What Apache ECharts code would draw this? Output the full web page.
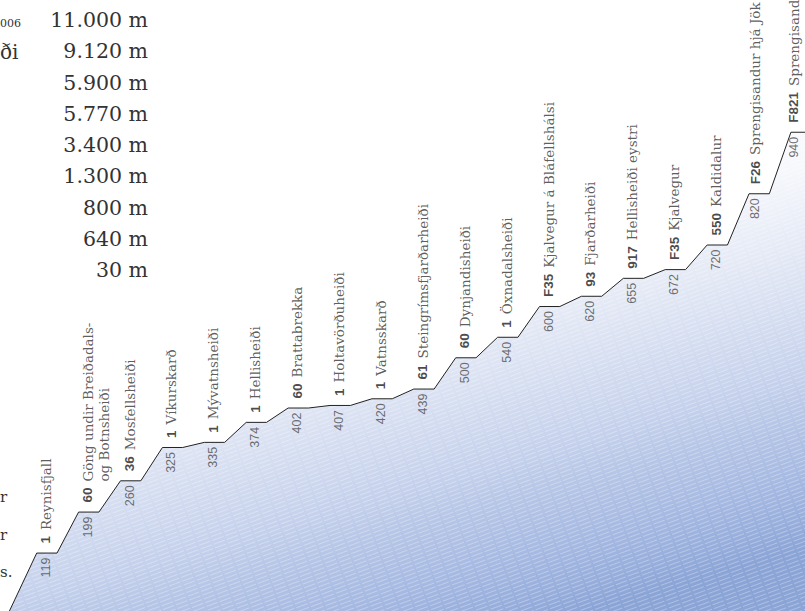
<!DOCTYPE html>
<html><head><meta charset="utf-8">
<script src="https://cdn.jsdelivr.net/npm/echarts@6/dist/echarts.min.js"></script>
<style>html,body{margin:0;padding:0;background:#fff}#c{width:805px;height:611px}</style>
</head><body><div id="c"></div>
<script>
// ---- data ----
const heights = [119,199,260,325,335,374,402,407,420,439,500,540,600,620,655,672,720,820,940];
const roads = ['1','60','36','1','1','1','60','1','1','61','60','1','F35','93','917','F35','550','F26','F821'];
const passNames = ['Reynisfjall','Göng undir Breiðadals-\nog Botnsheiði','Mosfellsheiði','Víkurskarð','Mývatnsheiði',
  'Hellisheiði','Brattabrekka','Holtavörðuheiði','Vatnsskarð','Steingrímsfjarðarheiði','Dynjandisheiði',
  'Öxnadalsheiði','Kjalvegur á Bláfellshálsi','Fjarðarheiði','Hellisheiði eystri','Kjalvegur','Kaldidalur',
  'Sprengisandur hjá Jök','Sprengisand'];
const seaLevel = 0;
const lengthLabels = ['11.000 m','9.120 m','5.900 m','5.770 m','3.400 m','1.300 m','800 m','640 m','30 m'];
const leftFragments = ['006','ði','r','r','s.'];

// ---- layout params ----
const plateau = 0.485;      // plateau length in station units
const startOffset = -0.685; // where the profile leaves sea level
const labelNudge = {17: -3, 18: -6}; // px shift of the last labels

const profile = [[startOffset, seaLevel]];
heights.forEach((v, i) => { profile.push([i, v]); profile.push([i + plateau, v]); });

const serif = '"DejaVu Serif", serif';
const sans = '"Liberation Sans", Arial, sans-serif';

function nameLabel(p) {
  const i = p.dataIndex;
  const lines = passNames[i].split('\n');
  return lines.map((l, k) => k === 0 ? `{b|${roads[i]}}{n|${l}}` : `{s| }{n|${l}}`).join('\n');
}
function stationData(dy) {
  return heights.map((v, i) => {
    const item = { value: [i, v] };
    if (labelNudge[i]) item.label = { position: [1.5 + labelNudge[i], dy] };
    return item;
  });
}

const graphics = [];
lengthLabels.forEach((t, k) => graphics.push({
  type: 'text', x: 148, y: 20 + 31.25 * k, silent: true,
  style: { text: t, align: 'right', verticalAlign: 'middle', textAlign: 'right', textVerticalAlign: 'middle',
    fontSize: 20.5, fontFamily: serif, fill: '#333' }
}));
const fragPos = [[0, 23, 11], [0, 52, 20], [0, 497, 15], [0, 535, 15], [0, 572, 15]];
leftFragments.forEach((t, k) => graphics.push({
  type: 'text', x: fragPos[k][0], y: fragPos[k][1], silent: true,
  style: { text: t, align: 'left', verticalAlign: 'middle', textAlign: 'left', textVerticalAlign: 'middle',
    fontSize: fragPos[k][2], fontFamily: serif, fill: '#333' }
}));

const chart = echarts.init(document.getElementById('c'), null, { renderer: 'svg' });
chart.setOption({
  animation: false,
  grid: { left: 0, right: 0, top: 0, bottom: 0 },
  xAxis: { type: 'value', min: -0.876, max: 18.336, show: false },
  yAxis: { type: 'value', min: 6, max: 1198, show: false },
  graphic: graphics,
  series: [
    {
      type: 'line', data: profile, showSymbol: false, silent: true, clip: true, z: 2,
      lineStyle: { color: '#222', width: 1 },
      itemStyle: {
        color: '#222',
        decal: { symbol: 'rect', symbolSize: 1, color: 'rgba(255,255,255,0.3)',
          dashArrayX: [[12, 2]], dashArrayY: [1, 3], rotation: -0.35 }
      },
      areaStyle: {
        origin: 'start', opacity: 1,
        color: { type: 'linear', x: 8, y: 132, x2: 176, y2: 727, global: true,
          colorStops: [
            { offset: 0, color: '#ffffff' },
            { offset: 0.4, color: '#f6f8fc' },
            { offset: 0.53, color: '#e4e9f5' },
            { offset: 0.73, color: '#c5d1ec' },
            { offset: 0.8, color: '#b5c5e6' },
            { offset: 0.88, color: '#a7bae2' },
            { offset: 0.96, color: '#96addb' },
            { offset: 1, color: '#8aa4d6' }
          ] }
      }
    },
    {
      type: 'scatter', data: stationData(-9), symbolSize: 1, silent: true, z: 5,
      itemStyle: { color: 'rgba(0,0,0,0)' },
      label: {
        show: true, rotate: 90, position: [1.5, -9], align: 'left', verticalAlign: 'top',
        lineHeight: 16, formatter: nameLabel,
        rich: {
          b: { fontFamily: sans, fontWeight: 'bold', fontSize: 13.5, color: '#1a1a1a', padding: [0, 6, 0, 0], lineHeight: 16 },
          n: { fontFamily: serif, fontSize: 13.5, color: '#333', lineHeight: 16 },
          s: { width: 21, fontSize: 13, lineHeight: 16 }
        }
      }
    },
    {
      type: 'scatter', data: stationData(5), symbolSize: 1, silent: true, z: 5,
      itemStyle: { color: 'rgba(0,0,0,0)' },
      label: {
        show: true, rotate: 90, position: [1.5, 5], align: 'right', verticalAlign: 'top',
        lineHeight: 16, fontFamily: sans, fontSize: 12.5, color: '#4a4a4a',
        formatter: p => String(heights[p.dataIndex])
      }
    }
  ]
});
</script>
</body></html>
